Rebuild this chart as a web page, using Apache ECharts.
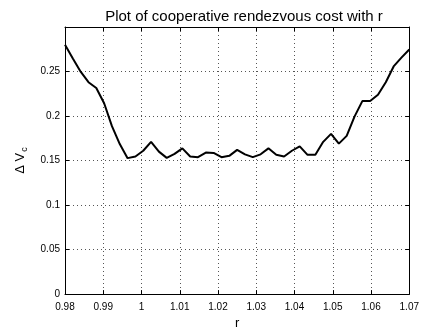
<!DOCTYPE html>
<html lang="en">
<head>
    <meta charset="UTF-8">
    <title>rendezvous cost</title>
    <script src="https://cdn.jsdelivr.net/npm/echarts@6/dist/echarts.min.js"></script>
    <style>
        *{margin:0;padding:0;box-sizing:border-box;}
        body,html{width:422px;height:335px;background:#fff;}
        #main{width:422px;height:335px;}
    </style>
</head>
<body>
<div id="main"></div>
<script>
    // r samples (45 points, 0.98 .. 1.07)
    var rVals = [0.98, 0.98205, 0.98409, 0.98614, 0.98818, 0.99023, 0.99227, 0.99432, 0.99636, 0.99841,
        1.00045, 1.0025, 1.00455, 1.00659, 1.00864, 1.01068, 1.01273, 1.01477, 1.01682, 1.01886,
        1.02091, 1.02295, 1.025, 1.02705, 1.02909, 1.03114, 1.03318, 1.03523, 1.03727, 1.03932,
        1.04136, 1.04341, 1.04545, 1.0475, 1.04955, 1.05159, 1.05364, 1.05568, 1.05773, 1.05977,
        1.06182, 1.06386, 1.06591, 1.06795, 1.07]
    // cost values
    var costVals = [0.280, 0.2645, 0.2498, 0.238, 0.2315, 0.2143, 0.1886, 0.1685, 0.1527, 0.1546,
        0.161, 0.171, 0.160, 0.153, 0.1575, 0.1637, 0.1546, 0.1538, 0.159, 0.1586,
        0.1538, 0.1553, 0.162, 0.157, 0.1538, 0.157, 0.1637, 0.1564, 0.1546, 0.161,
        0.166, 0.1564, 0.1564, 0.171, 0.180, 0.169, 0.1777, 0.1993, 0.2168, 0.2168,
        0.224, 0.238, 0.2557, 0.2656, 0.2747]

    var font = "Liberation Sans"
    var pts = rVals.map(function (r, i) { return [r, costVals[i]] })

    var gridLine = {show: true, lineStyle: {color: '#555', type: [1, 3], width: 1}}
    var axLine = {show: true, onZero: false, lineStyle: {color: '#000', width: 1}}
    var tick = {show: true, inside: true, length: 4, lineStyle: {color: '#000'}}

    var myChart = echarts.init(document.getElementById('main'), null, {renderer: 'canvas'})
    var option = {
        animation: false,
        backgroundColor: '#fff',
        title: {
            text: 'Plot of cooperative rendezvous cost with r',
            left: 239, top: 4, textAlign: 'center',
            textStyle: {fontFamily: font, fontSize: 15, fontWeight: 'normal', color: '#000'}
        },
        grid: {left: 65, right: 10, top: 27, bottom: 35},
        xAxis: [
            {
                type: 'value', min: 0.98, max: 1.07, interval: 0.01,
                name: 'r', nameLocation: 'middle', nameGap: 20,
                nameTextStyle: {fontFamily: font, fontSize: 13, color: '#000'},
                axisLine: axLine, axisTick: tick, splitLine: gridLine,
                axisLabel: {fontFamily: font, fontSize: 10, color: '#000', margin: 8}
            },
            {
                type: 'value', position: 'top', min: 0.98, max: 1.07, interval: 0.01,
                axisLine: axLine, axisTick: tick, splitLine: {show: false}, axisLabel: {show: false}
            }
        ],
        yAxis: [
            {
                type: 'value', min: 0, max: 0.3, interval: 0.05,
                name: '{a|Δ V}{b|c}', nameLocation: 'middle', nameGap: 36,
                nameTextStyle: {
                    rich: {
                        a: {fontFamily: font, fontSize: 13, color: '#000'},
                        b: {fontFamily: font, fontSize: 9, color: '#000', padding: [8, 0, 0, 1]}
                    }
                },
                axisLine: axLine, axisTick: tick, splitLine: gridLine,
                axisLabel: {fontFamily: font, fontSize: 10, color: '#000', margin: 5, showMaxLabel: false}
            },
            {
                type: 'value', position: 'right', min: 0, max: 0.3, interval: 0.05,
                axisLine: axLine, axisTick: tick, splitLine: {show: false}, axisLabel: {show: false}
            }
        ],
        series: [{
            type: 'line',
            data: pts,
            showSymbol: false,
            lineStyle: {color: '#000', width: 2},
            z: 5
        }]
    }
    myChart.setOption(option)
    window.onresize = myChart.resize
</script>
</body>
</html>
